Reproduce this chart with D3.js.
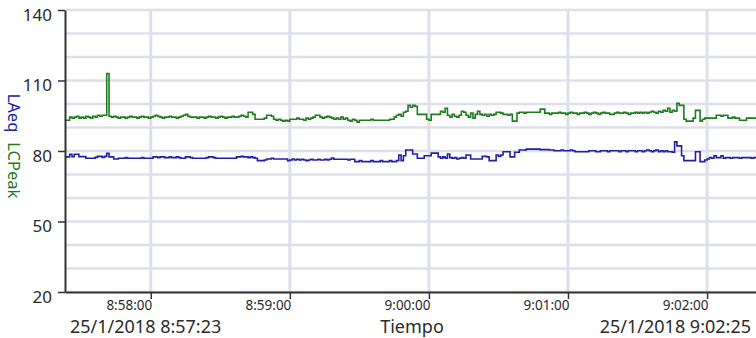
<!DOCTYPE html>
<html>
<head>
<meta charset="utf-8">
<script src="https://cdn.jsdelivr.net/npm/d3@7"></script>
<style>
  html, body { margin: 0; padding: 0; background: #fff; }
  svg { display: block; font-family: "Noto Sans", "Open Sans", sans-serif; }
</style>
</head>
<body>
<svg id="chart" width="756" height="338"></svg>
<script>
// Sound level log, one reading per second from 25/1/2018 8:57:23 to 9:02:25
const startStamp = "25/1/2018 8:57:23";
const endStamp = "25/1/2018 9:02:25";

// LCPeak (dB), one value per second
const lcpeak = [
  93.1, 93.1, 94.4, 94.0, 94.4, 94.8, 94.0, 94.4, 94.0, 94.8, 94.4,
  94.0, 94.8, 94.4, 95.2, 94.8, 95.2, 95.2, 113.0,
  94.8, 94.4, 94.8, 94.4, 94.0, 94.4, 94.4,
  94.0, 94.4, 94.8, 94.4, 94.4, 94.0, 94.4, 94.8, 94.4, 94.4,
  94.0, 94.4, 94.8, 95.2, 94.8, 94.4, 94.0, 94.4, 94.4, 94.8,
  94.4, 94.4, 94.0, 94.4, 94.8,
  95.2, 95.6, 94.8, 94.4, 94.4,
  94.4, 94.0, 94.4, 94.4, 94.0, 94.4, 94.8, 94.4, 94.4, 94.0, 94.4, 94.8, 94.4, 94.0, 94.4,
  94.4, 94.8, 94.4, 94.4, 94.8, 95.2, 94.8, 94.4,
  96.5, 96.5, 95.6,
  93.5, 93.5, 93.5, 93.5, 94.0,
  95.2, 95.2, 94.8,
  93.5, 93.1, 93.5, 93.1, 92.7, 93.1, 92.7, 93.5,
  93.5, 93.5, 94.0, 93.5, 93.5, 93.1, 94.0, 93.5,
  94.0, 94.4, 95.2, 95.2, 94.4,
  94.0, 94.4, 94.8, 94.4, 94.0,
  93.5, 94.0, 93.5, 94.4, 93.5, 94.0, 93.1, 92.7, 93.5, 93.1,
  92.3, 93.1, 93.1, 93.1, 93.1, 93.1, 93.5, 93.1, 93.1, 93.1, 93.1, 93.1, 93.1, 93.1, 93.5,
  93.5, 94.4, 95.2, 95.6,
  94.8, 96.5, 96.9,
  99.4, 98.6, 99.4, 99.0,
  95.6, 95.6, 95.6, 95.6,
  93.5, 93.1,
  95.6, 95.6, 95.6, 95.6,
  96.9, 96.5, 98.2,
  95.2, 94.4, 95.6, 94.8, 94.4, 95.2,
  96.9, 96.5,
  95.2, 94.4, 96.1, 94.0, 95.6, 96.9,
  95.6, 95.2, 95.6, 94.8, 95.6, 95.2,
  95.6, 96.5, 96.5,
  96.1, 95.6, 95.6, 95.2,
  95.6, 92.7, 92.7,
  96.1, 96.5, 96.5, 96.1,
  96.5, 96.5, 96.5, 96.5, 96.5, 96.5,
  97.8, 97.8,
  96.1, 96.1, 95.6, 96.1, 96.1, 96.1,
  96.5, 96.1, 96.1, 95.6, 96.1, 96.5, 96.1, 96.1,
  95.6, 96.1, 96.1, 96.5, 96.1, 95.6, 96.1, 96.5, 96.1, 95.6,
  96.1, 96.5, 96.1, 96.1, 95.6, 95.6, 96.1, 96.5, 96.1, 96.1,
  96.5, 96.1, 95.6, 96.1, 96.1, 96.5, 96.1, 96.5, 96.1, 96.5,
  96.1, 96.5, 96.9, 96.5, 96.1, 96.9, 96.5,
  97.3, 96.9, 98.2, 96.5, 97.3, 96.9,
  100.3, 99.4, 99.4,
  93.5, 92.7, 92.7, 92.7,
  94.0,
  97.3, 97.3,
  92.7, 93.5,
  94.0, 94.0, 94.0, 94.0, 94.0,
  95.2, 95.2, 94.8, 95.2, 95.2,
  94.0, 94.0, 94.4, 94.0, 94.0,
  93.1, 93.1, 93.1,
  94.0, 94.0, 94.0, 94.0, 94.0, 94.0, 94.0, 94.0, 94.0
];

// LAeq (dB), one value per second
const laeq = [
  77.5, 77.5, 78.6, 77.6, 78.6, 78.6, 77.6, 77.6, 77.6,
  76.9, 76.9, 76.9, 76.9,
  77.3, 77.7, 77.7, 77.3, 77.7, 79.0,
  77.5, 77.5, 76.6, 76.6,
  76.9, 76.9, 76.9, 77.2, 76.9, 76.9, 76.9, 76.9, 76.9, 76.9, 77.2, 76.9, 76.9, 76.9, 76.9,
  77.5, 77.5, 77.2, 77.5, 77.5, 77.2,
  77.2, 77.5, 77.2, 77.2, 77.5, 77.2, 76.9,
  76.9, 77.5, 77.5, 77.2, 76.9, 76.9, 76.9, 76.9, 76.9, 76.9,
  77.2, 77.5, 77.5, 77.2, 76.9, 76.9, 76.9, 76.9, 76.9, 76.9,
  76.9, 76.9, 76.9, 77.5, 77.5, 77.7, 77.5, 77.5, 77.2, 77.5,
  77.2, 76.9,
  75.9, 75.9, 75.9, 76.2, 76.6,
  76.6, 76.9, 76.6, 76.6, 76.6, 76.6, 76.6, 76.6, 75.9,
  76.2, 76.6, 76.2,
  76.5, 76.2, 76.5, 76.2, 75.9, 76.2, 76.5, 76.2, 76.2, 76.5, 76.2, 76.2, 76.5, 76.2, 76.5,
  77.0, 76.5,
  76.5, 76.5, 76.5, 76.5, 76.5, 76.2, 76.5, 76.5,
  75.5, 75.5, 75.9, 75.5, 75.5, 75.5, 75.5, 75.9, 75.5, 75.5, 75.5, 75.9, 75.5, 75.5, 75.5, 75.9, 75.5, 75.5, 75.9,
  78.3, 75.9, 78.0,
  80.4, 80.4, 80.4,
  78.7, 78.7,
  76.9, 76.9, 76.9, 78.0,
  78.0, 78.0,
  79.1, 79.1, 79.1, 77.5, 76.9,
  77.5, 76.9, 78.7,
  77.2, 76.9, 77.2, 76.6, 76.9, 77.2, 76.9,
  78.3, 78.3, 76.6,
  76.6, 76.6, 76.6, 76.6,
  77.7, 77.7, 77.5,
  75.9, 75.9, 75.9,
  78.3, 77.7, 78.3,
  79.7, 79.7, 79.7,
  77.5, 77.5,
  79.5, 79.5, 80.4,
  80.4, 80.4, 80.8,
  80.8, 80.8, 80.8, 80.8, 80.8,
  80.6, 80.6, 80.6, 80.6, 80.4, 80.4,
  80.1, 80.1, 80.1, 80.4, 80.1, 80.1, 80.1, 80.4, 80.1,
  79.7, 79.7, 79.7, 79.7, 79.7, 79.7, 80.1,
  80.1, 80.1, 79.7, 79.7, 80.1, 80.1, 80.1, 79.7, 80.1, 80.1, 80.1, 80.1, 79.7, 80.1,
  80.1, 79.7, 80.1, 80.1, 80.1, 79.7, 80.1, 80.1, 79.7, 80.1,
  80.4, 80.1, 79.7, 80.1, 80.4, 79.7, 80.1, 79.7, 80.1, 79.7,
  79.7, 79.5,
  83.9,
  82.2, 82.2, 78.0,
  75.9, 75.9, 75.9, 75.9, 75.9,
  79.7, 79.7,
  75.5, 75.5,
  76.2, 76.6,
  77.2, 76.9, 78.0, 77.2, 77.2, 78.0,
  76.9, 77.2, 77.2, 76.9, 77.2, 77.2, 77.2, 76.9, 77.2, 77.2,
  77.2, 77.2, 76.9, 77.2, 77.2, 77.2, 77.2, 77.2, 77.2
];

// Axis tick labels
const minuteLabels = ["8:58:00", "8:59:00", "9:00:00", "9:01:00", "9:02:00"];
const yTickValues = [20, 50, 80, 110, 140];
const yGridValues = [20, 30, 40, 50, 60, 70, 80, 90, 100, 110, 120, 130, 140];
const axisTitle = "Tiempo";

const colors = { lcpeak: "#1d7d1d", laeq: "#2020a6", grid: "#dde0ea", axis: "#333333", text: "#2b2b2b" };

const parseStamp = d3.timeParse("%d/%m/%Y %H:%M:%S");
const t0 = parseStamp(startStamp);
const t1 = parseStamp(endStamp);
const dayPart = "25/1/2018 ";
const minuteTicks = minuteLabels.map(s => parseStamp(dayPart + s));
const fmtClock = d3.timeFormat("%-H:%M:%S");

const svg = d3.select("#chart");
const plot = { left: 65, right: 765, top: 10, bottom: 292 };

const x = d3.scaleTime().domain([t0, t1]).range([plot.left, plot.right]);
const y = d3.scaleLinear().domain([20, 140]).range([plot.bottom, plot.top]);

const toSeries = arr => arr.map((v, i) => ({ t: new Date(t0.getTime() + i * 1000), v }));

// Grid
const grid = svg.append("g");
grid.selectAll("line.h").data(yGridValues).join("line")
  .attr("class", "h")
  .attr("x1", plot.left).attr("x2", plot.right)
  .attr("y1", d => y(d)).attr("y2", d => y(d))
  .attr("stroke", colors.grid).attr("stroke-width", 2.5);
grid.selectAll("line.v").data(minuteTicks).join("line")
  .attr("class", "v")
  .attr("x1", d => x(d)).attr("x2", d => x(d))
  .attr("y1", plot.top).attr("y2", plot.bottom)
  .attr("stroke", colors.grid).attr("stroke-width", 3);

// Series as step lines
const line = d3.line().x(d => x(d.t)).y(d => y(d.v)).curve(d3.curveStepAfter);
svg.append("path").datum(toSeries(lcpeak))
  .attr("d", line).attr("fill", "none")
  .attr("stroke", colors.lcpeak).attr("stroke-width", 1.6);
svg.append("path").datum(toSeries(laeq))
  .attr("d", line).attr("fill", "none")
  .attr("stroke", colors.laeq).attr("stroke-width", 1.6);

// Y axis
const yAxis = svg.append("g")
  .attr("transform", `translate(${plot.left},0)`)
  .call(d3.axisLeft(y).tickValues(yTickValues).tickSize(7).tickSizeOuter(0).tickPadding(6));
yAxis.select(".domain").attr("stroke", colors.axis).attr("stroke-width", 2);
yAxis.selectAll(".tick line").attr("stroke", colors.axis).attr("stroke-width", 1.5);
yAxis.selectAll(".tick text")
  .attr("fill", colors.text).style("font-size", "17px").attr("dy", "0.6em")
  .style("font-family", "'Noto Sans', 'Open Sans', sans-serif");

// X axis: clock labels sit to the left of their tick
const xAxis = svg.append("g")
  .attr("transform", `translate(0,${plot.bottom})`)
  .call(d3.axisBottom(x).tickValues(minuteTicks).tickFormat(fmtClock).tickSize(7).tickSizeOuter(0));
xAxis.select(".domain").attr("stroke", colors.axis).attr("stroke-width", 2);
xAxis.selectAll(".tick line").attr("stroke", colors.axis).attr("stroke-width", 1.5);
xAxis.selectAll(".tick text")
  .attr("text-anchor", "end").attr("x", 1).attr("y", 18).attr("dy", 0)
  .attr("fill", colors.text).style("font-size", "13.5px")
  .style("font-family", "'Noto Sans', 'Open Sans', sans-serif");

// Range and axis title row
const footY = 333;
svg.append("text").attr("x", 70).attr("y", footY)
  .attr("fill", colors.text).style("font-size", "18px").text(startStamp);
svg.append("text").attr("x", 412).attr("y", footY).attr("text-anchor", "middle")
  .attr("fill", colors.text).style("font-size", "18px").text(axisTitle);
svg.append("text").attr("x", 751).attr("y", footY).attr("text-anchor", "end")
  .attr("fill", colors.text).style("font-size", "18px").text(endStamp);

// Vertical series label
const ylab = svg.append("text")
  .attr("transform", "translate(8,146) rotate(90)")
  .attr("text-anchor", "middle")
  .style("font-size", "16.5px");
ylab.append("tspan").attr("fill", colors.laeq).text("LAeq");
ylab.append("tspan").attr("fill", colors.lcpeak).attr("dx", "0.6em").text("LCPeak");
</script>
</body>
</html>
